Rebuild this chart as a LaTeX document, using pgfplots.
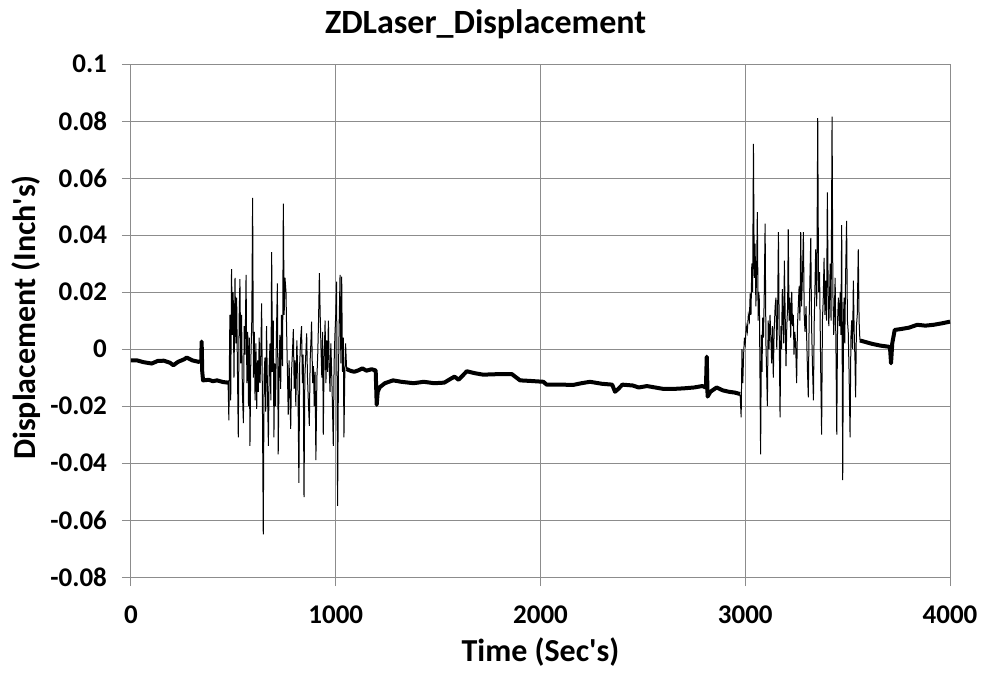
\documentclass[border=0pt]{standalone}
\usepackage{pgfplots}
\pgfplotsset{compat=1.18}
\usepackage{fontspec}
\setmainfont{Carlito}[Ligatures=TeXOff]

% calm stretches (drawn thick, the fine jitter reads as a heavy line)
\pgfplotstableread{
x y
0 -0.0040
30 -0.0040
60 -0.0046
101 -0.0051
130 -0.0042
160 -0.0041
190 -0.0048
207 -0.0057
230 -0.0045
260 -0.0036
272 -0.0030
300 -0.0040
330 -0.0045
343 -0.0042
345 0.0026
348 -0.0080
352 -0.0110
380 -0.0108
400 -0.0113
420 -0.0110
450 -0.0116
474 -0.0118
}\calmA

\pgfplotstableread{
x y
1053 -0.0070
1070 -0.0076
1090 -0.0080
1110 -0.0075
1130 -0.0068
1150 -0.0076
1175 -0.0071
1195 -0.0075
1200 -0.0196
1205 -0.0150
1215 -0.0134
1240 -0.0120
1280 -0.0110
1320 -0.0115
1380 -0.0120
1430 -0.0115
1480 -0.0120
1530 -0.0118
1560 -0.0105
1580 -0.0097
1600 -0.0108
1640 -0.0078
1680 -0.0085
1720 -0.0090
1800 -0.0088
1860 -0.0088
1900 -0.0110
1950 -0.0112
2014 -0.0115
2030 -0.0125
2100 -0.0125
2160 -0.0126
2200 -0.0120
2242 -0.0115
2300 -0.0122
2350 -0.0125
2364 -0.0150
2380 -0.0140
2400 -0.0125
2450 -0.0128
2480 -0.0135
2520 -0.0130
2560 -0.0135
2600 -0.0140
2650 -0.0140
2700 -0.0138
2750 -0.0135
2790 -0.0130
2808 -0.0135
2812 -0.0027
2816 -0.0167
2830 -0.0150
2860 -0.0135
2890 -0.0145
2920 -0.0150
2950 -0.0153
2975 -0.0158
}\calmB

\pgfplotstableread{
x y
3560 0.0030
3580 0.0026
3620 0.0018
3660 0.0012
3700 0.0008
3707 0.0005
3712 -0.0050
3718 0.0020
3730 0.0067
3760 0.0070
3800 0.0075
3840 0.0085
3880 0.0082
3920 0.0085
3960 0.0090
4000 0.0096
}\calmC

% first burst
\pgfplotstableread{
x y
474 -0.011
478 -0.025
483 0.012
487 -0.018
491 0.028
495 0.005
499 0.020
503 -0.010
508 0.025
512 0.002
516 0.018
520 -0.008
524 -0.031
528 0.010
532 0.0245
536 -0.005
540 0.012
544 -0.015
549 -0.026
553 0.008
557 -0.002
562 0.026
566 -0.012
570 0.006
574 -0.020
578 0.004
581 -0.034
585 -0.005
590 0.010
594 0.053
598 -0.010
602 0.006
606 -0.018
610 0.002
614 -0.021
618 -0.004
622 -0.015
626 0.004
630 -0.012
634 -0.002
638 0.016
642 -0.020
646 -0.065
650 -0.010
654 -0.003
658 -0.022
662 0.008
666 -0.012
671 -0.034
675 -0.006
679 0.002
683 -0.018
687 0.034
691 -0.008
695 0.010
698 -0.031
702 -0.005
706 -0.020
710 0.004
715 0.023
719 -0.037
723 -0.010
727 0.005
731 -0.014
735 0.012
740 -0.006
744 0.051
748 0.012
752 0.025
757 0.020
761 0.003
765 -0.012
768 -0.023
772 -0.004
776 -0.016
780 -0.028
784 -0.008
788 -0.002
793 0.007
797 -0.014
801 -0.004
805 -0.020
810 0.003
815 -0.010
820 -0.047
824 -0.005
829 0.004
833 0.008
837 -0.012
841 -0.002
845 -0.052
849 -0.010
853 -0.003
858 0.0055
862 -0.010
866 -0.018
871 -0.027
875 -0.004
879 0.003
882 0.0096
887 -0.012
891 -0.006
895 -0.020
899 -0.008
903 -0.039
908 -0.010
912 -0.002
916 0.010
920 0.0266
924 0.012
928 0.000
932 -0.010
936 0.006
939 -0.030
943 -0.005
948 0.010
952 -0.012
956 0.003
960 -0.008
964 0.010
968 -0.006
972 -0.015
976 0.002
980 -0.008
984 -0.020
988 -0.034
992 -0.005
996 0.005
1000 0.012
1004 0.0236
1009 -0.055
1013 -0.010
1017 0.010
1021 0.026
1025 -0.005
1029 0.0254
1033 -0.008
1037 0.004
1040 -0.031
1044 -0.010
1048 0.002
1053 -0.007
}\burstA

% second burst
\pgfplotstableread{
x y
2975 -0.016
2980 -0.024
2984 0.000
2988 -0.012
2992 -0.002
2996 0.004
3000 0.002
3005 0.008
3010 0.006
3015 0.012
3020 0.010
3024 0.0195
3028 0.012
3032 0.030
3036 0.020
3040 0.072
3044 0.025
3048 0.037
3052 0.015
3056 0.030
3059 0.048
3063 0.010
3066 0.020
3069 0.017
3072 -0.010
3075 -0.037
3079 0.005
3082 -0.008
3085 0.011
3089 0.004
3093 0.020
3097 0.044
3101 0.002
3105 -0.010
3108 -0.020
3112 0.010
3116 0.000
3121 0.012
3125 0.004
3129 -0.005
3133 0.008
3137 -0.010
3141 0.006
3146 0.015
3150 0.018
3154 0.000
3158 0.012
3162 0.041
3166 0.005
3170 -0.024
3174 0.008
3177 0.000
3181 0.021
3185 0.010
3188 0.002
3191 0.031
3195 0.012
3199 -0.006
3203 0.008
3207 0.015
3210 0.042
3214 0.010
3218 0.018
3222 0.004
3227 0.020
3231 0.008
3235 0.012
3238 -0.002
3242 0.006
3246 0.002
3251 -0.012
3255 0.008
3259 0.015
3263 0.022
3267 0.010
3271 0.041
3275 0.015
3279 0.025
3284 0.041
3288 0.012
3292 0.006
3297 0.015
3300 0.004
3304 -0.008
3308 -0.017
3312 0.010
3316 0.025
3320 0.039
3324 0.008
3328 -0.005
3333 -0.018
3337 0.010
3340 0.020
3344 0.035
3349 0.015
3354 0.081
3358 0.020
3363 0.027
3366 0.008
3369 -0.010
3373 -0.030
3377 0.010
3381 0.018
3385 0.032
3389 0.012
3393 0.024
3397 0.010
3401 0.055
3405 0.020
3408 0.008
3411 0.016
3415 0.030
3419 0.010
3424 0.0815
3428 0.020
3432 0.005
3435 0.012
3439 0.025
3443 0.000
3447 -0.030
3451 0.010
3455 0.018
3460 0.008
3464 0.020
3467 0.005
3471 0.0435
3476 -0.046
3480 0.012
3483 0.018
3486 0.002
3490 0.025
3495 0.045
3499 0.010
3503 0.006
3507 -0.008
3512 -0.031
3516 0.004
3520 0.010
3524 0.000
3528 0.024
3532 0.006
3536 -0.004
3539 -0.017
3543 0.008
3547 0.012
3552 0.035
3556 0.010
3560 0.003
}\burstB

\begin{document}
\begin{tikzpicture}
% fixed frame: 985x677 px at 2 px per pt, plot box placed as in the reference
\useasboundingbox (-65.5pt,-50pt) rectangle (427pt,288.5pt);
\begin{axis}[
    at={(0pt,0pt)}, anchor=south west,
    scale only axis,
    width=409.5pt, height=256.5pt,
    xmin=0, xmax=4000, ymin=-0.08, ymax=0.1,
    xtick={0,1000,2000,3000,4000},
    ytick={-0.08,-0.06,-0.04,-0.02,0,0.02,0.04,0.06,0.08,0.1},
    grid=major,
    major grid style={draw=black!45, line width=0.5pt},
    axis line style={draw=black!45, line width=0.5pt},
    axis x line*=bottom, axis y line*=left,
    tick align=outside, major tick length=4.5pt,
    tick style={draw=black!45, line width=0.5pt},
    /pgf/number format/assume math mode=true,
    /pgf/number format/1000 sep={},
    yticklabel style={/pgf/number format/fixed, /pgf/number format/precision=2},
    ticklabel style={font=\fontsize{13.5}{16}\selectfont\bfseries},
    xticklabel style={yshift=-6.5pt},
    yticklabel style={xshift=-4pt},
    title={ZDLaser\_Displacement},
    title style={font=\fontsize{17}{20}\selectfont\bfseries,
        at={(rel axis cs:0.433,1)}, anchor=base, yshift=9.5pt},
    xlabel={Time (Sec's)},
    ylabel={Displacement (Inch's)},
    label style={font=\fontsize{16}{19}\selectfont\bfseries},
    xlabel style={at={([yshift=-42pt]rel axis cs:0.5,0)}, anchor=base},
    ylabel style={at={([xshift=-47.5pt,yshift=1.5pt]rel axis cs:0,0.5)}, anchor=base},
    clip=false,
]
\addplot[black, line width=2pt, line join=round] table {\calmA};
\addplot[black, line width=2pt, line join=round] table {\calmB};
\addplot[black, line width=2pt, line join=round] table {\calmC};
\addplot[black, line width=0.5pt] table {\burstA};
\addplot[black, line width=0.5pt] table {\burstB};
\end{axis}
\end{tikzpicture}
\end{document}
